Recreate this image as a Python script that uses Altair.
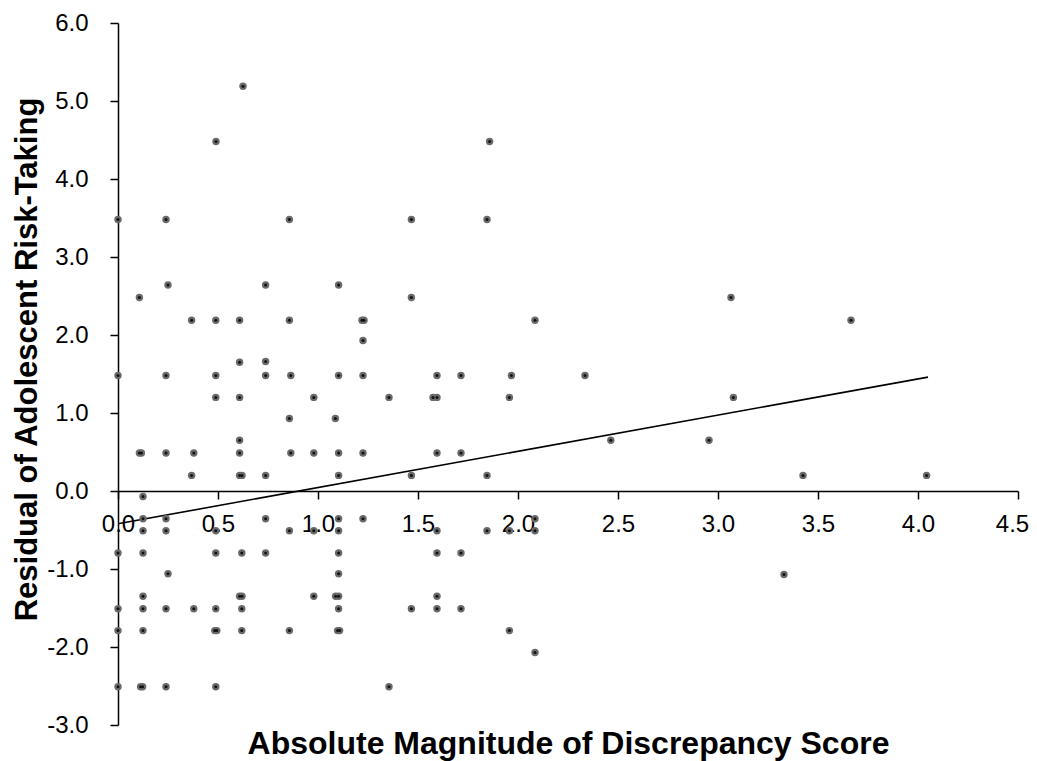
import altair as alt
import pandas as pd

# Absolute magnitude of discrepancy score (x) and residual of adolescent risk-taking (y)
discrepancy = [
    0.625, 0.49, 1.858,
    0.0, 0.24, 0.857, 1.467, 1.845,
    0.25, 0.738, 1.103,
    0.107, 1.467, 3.065,
    0.368, 0.489, 0.608, 0.857, 1.22, 1.23, 2.085, 3.665,
    1.225,
    0.608, 0.738,
    0.0, 0.24, 0.489, 0.738, 0.864, 1.103, 1.225, 1.595, 1.715, 1.967, 2.335,
    0.489, 0.608, 0.979, 1.355, 1.575, 1.595, 1.957, 3.077,
    0.857, 1.087,
    0.608, 2.464, 2.955,
    0.107, 0.117, 0.24, 0.379, 0.608, 0.864, 0.979, 1.103, 1.225, 1.595, 1.715,
    0.368, 0.608, 0.62, 0.738, 1.103, 1.467, 1.845, 3.425, 4.043,
    0.125,
    0.125, 0.24, 0.738, 1.103, 1.225, 2.085,
    0.125, 0.24, 0.489, 0.857, 0.979, 1.103, 1.595, 1.845, 1.957, 2.085,
    0.0, 0.125, 0.489, 0.619, 0.738, 1.103, 1.595, 1.715,
    0.25, 1.103, 3.33,
    0.125, 0.608, 0.62, 0.979, 1.088, 1.103, 1.595,
    0.0, 0.125, 0.24, 0.379, 0.489, 0.619, 1.103, 1.467, 1.595, 1.715,
    0.0, 0.125, 0.484, 0.494, 0.619, 0.857, 1.098, 1.108, 1.957,
    2.085,
    0.0, 0.113, 0.123, 0.24, 0.489, 1.355,
]
residual = [
    5.19, 4.48, 4.48,
    3.48, 3.48, 3.48, 3.48, 3.48,
    2.64, 2.64, 2.64,
    2.48, 2.48, 2.48,
    2.19, 2.19, 2.19, 2.19, 2.19, 2.19, 2.19, 2.19,
    1.93,
    1.65, 1.66,
    1.48, 1.48, 1.48, 1.48, 1.48, 1.48, 1.48, 1.48, 1.48, 1.48, 1.48,
    1.20, 1.20, 1.20, 1.20, 1.20, 1.20, 1.20, 1.20,
    0.93, 0.93,
    0.65, 0.65, 0.65,
    0.487, 0.487, 0.487, 0.487, 0.487, 0.487, 0.487, 0.487, 0.487, 0.487, 0.487,
    0.20, 0.20, 0.20, 0.20, 0.20, 0.20, 0.20, 0.20, 0.20,
    -0.07,
    -0.355, -0.355, -0.355, -0.355, -0.355, -0.355,
    -0.51, -0.51, -0.51, -0.51, -0.51, -0.51, -0.51, -0.51, -0.51, -0.51,
    -0.795, -0.795, -0.795, -0.795, -0.795, -0.795, -0.795, -0.795,
    -1.06, -1.06, -1.07,
    -1.35, -1.35, -1.35, -1.35, -1.35, -1.35, -1.35,
    -1.51, -1.51, -1.51, -1.51, -1.51, -1.51, -1.51, -1.51, -1.51, -1.51,
    -1.79, -1.79, -1.79, -1.79, -1.79, -1.79, -1.79, -1.79, -1.79,
    -2.07,
    -2.51, -2.51, -2.51, -2.51, -2.51, -2.51,
]

# Trend line end points
trend_x = [0.0, 4.05]
trend_y = [-0.42, 1.46]

x_ticks = [0.0, 0.5, 1.0, 1.5, 2.0, 2.5, 3.0, 3.5, 4.0, 4.5]
y_ticks = [-3.0, -2.0, -1.0, 0.0, 1.0, 2.0, 3.0, 4.0, 5.0, 6.0]

pts = pd.DataFrame({"x": discrepancy, "y": residual})
trend = pd.DataFrame({"x": trend_x, "y": trend_y})

FONT = "Liberation Sans"
W, H = 900, 702
LABEL_EXPR = "replace(format(datum.value, '.1f'), '\u2212', '-')"

xenc = alt.X(
    "x:Q",
    scale=alt.Scale(domain=[0, 4.5], nice=False, zero=False),
    axis=alt.Axis(
        values=x_ticks, labelExpr=LABEL_EXPR, grid=False,
        labelFont=FONT, labelFontSize=24, labelColor="black",
        labelPadding=13, labelFlush=False, labelOverlap=False,
        labelOffset={"condition": {"test": "datum.value >= 4.5", "value": -6}, "value": 0},
        tickColor="black", tickSize=8, tickWidth=1.5,
        domainColor="black", domainWidth=1.5,
        offset=-234,
        title="Absolute Magnitude of Discrepancy Score",
        titleFont=FONT, titleFontSize=32, titleFontWeight="bold", titleColor="black",
        titleX=450, titleY=262, titleBaseline="alphabetic", titleAlign="center",
    ),
)
yenc = alt.Y(
    "y:Q",
    scale=alt.Scale(domain=[-3, 6], nice=False, zero=False),
    axis=alt.Axis(
        values=y_ticks, labelExpr=LABEL_EXPR, grid=False,
        labelFont=FONT, labelFontSize=24, labelColor="black",
        labelPadding=22, labelFlush=False, labelOverlap=False,
        tickColor="black", tickSize=8, tickWidth=1.5,
        domainColor="black", domainWidth=1.5,
        title="Residual of Adolescent Risk-Taking",
        titleFont=FONT, titleFontSize=31, titleFontWeight="bold", titleColor="black",
        titleX=-82, titleY=336, titleBaseline="alphabetic", titleAngle=270,
        titleAlign="center",
    ),
)

outer = alt.Chart(pts).mark_circle(size=55, color="#6a6a6a", opacity=1).encode(x=xenc, y=yenc)
inner = alt.Chart(pts).mark_circle(size=9, color="#111111", opacity=1).encode(x=xenc, y=yenc)
line = alt.Chart(trend).mark_line(color="black", strokeWidth=1.6).encode(x=xenc, y=yenc)

chart = (
    alt.layer(line, outer, inner)
    .properties(
        width=W, height=H,
        autosize=alt.AutoSizeParams(type="none"),
        padding={"left": 110, "top": 15, "right": 11, "bottom": 36},
        background="white",
    )
    .configure_view(stroke=None)
)

chart.save("out.html", embed_options={"renderer": "svg", "actions": False})
